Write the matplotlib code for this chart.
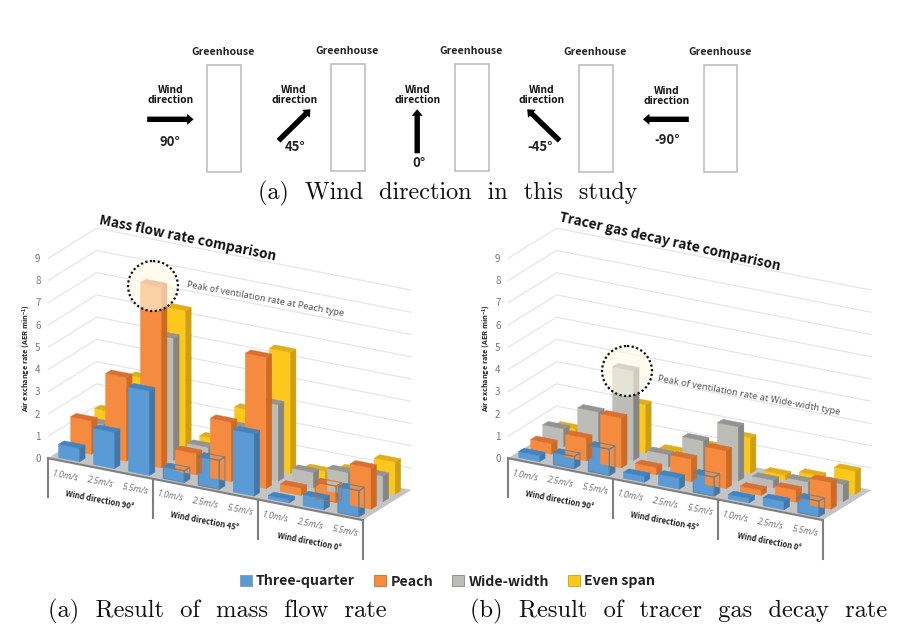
import matplotlib
matplotlib.use("Agg")
import matplotlib.pyplot as plt
from matplotlib.patches import Polygon, Rectangle, Ellipse, FancyArrow

speeds = ["1.0m/s", "2.5m/s", "5.5m/s"] * 3
directions = ["Wind direction 90°", "Wind direction 45°", "Wind direction 0°"]
series_names = ["Three-quarter", "Peach", "Wide-width", "Even span"]
y_ticks = list(range(10))

mass_three_quarter = [0.6, 1.63, 3.8, 0.52, 1.3, 2.8, 0.15, 0.5, 1.17]
mass_peach = [1.5, 3.76, 8.15, 0.96, 2.67, 5.9, 0.33, 0.73, 1.85]
mass_wide = [1.0, 2.6, 5.5, 0.9, 2.1, 3.43, 0.7, 1.0, 1.15]
mass_even = [1.2, 3.0, 6.4, 0.9, 2.5, 5.45, 0.4, 0.7, 1.44]

tracer_three_quarter = [0.27, 0.55, 1.18, 0.27, 0.5, 0.85, 0.2, 0.37, 0.7]
tracer_peach = [0.48, 1.03, 2.25, 0.33, 1.02, 1.7, 0.24, 0.55, 1.2]
tracer_wide = [0.8, 1.87, 4.03, 0.57, 1.5, 2.44, 0.35, 0.58, 0.78]
tracer_even = [0.46, 1.0, 2.17, 0.35, 0.9, 1.6, 0.25, 0.5, 1.03]

# (series index, category index) of bars drawn behind the next row, leaving an outline on top
mass_boxed = [(0, 3), (0, 4), (0, 8), (1, 7)]
tracer_boxed = [(0, 1), (0, 2), (0, 5), (0, 8)]

FRONT = ["#5b9bd5", "#f58b3e", "#bdbdb8", "#fdc71c"]
TOP = ["#4383c0", "#d96f30", "#949494", "#dfae1a"]
SIDE = ["#3f78ad", "#cf6a22", "#858585", "#cf9f12"]

fig = plt.figure(figsize=(9.06, 6.4), dpi=100)
ax = fig.add_axes([0, 0, 1, 1])
ax.set_xlim(0, 906)
ax.set_ylim(640, 0)
ax.axis("off")

SANS = "Noto Sans CJK KR"
ROT = -11.1


def make_proj(ox, oy=458.3):
    def proj(x, z, y):
        return (ox + 34.93 * x + 12.08 * z, oy + 6.87 * x - 7.5 * z - 22.23 * y)
    return proj


def box_faces(p, i, s, v):
    x0, x1 = i + 0.2, i + 0.8
    z0, z1 = s + 0.27, s + 0.73
    front = [p(x0, z0, 0), p(x1, z0, 0), p(x1, z0, v), p(x0, z0, v)]
    side = [p(x1, z0, 0), p(x1, z1, 0), p(x1, z1, v), p(x1, z0, v)]
    top = [p(x0, z0, v), p(x1, z0, v), p(x1, z1, v), p(x0, z1, v)]
    return front, side, top


def panel(ox, series, boxed, title, title_xy, title_rot, title_size):
    p = make_proj(ox)
    ax.add_patch(Polygon([p(0, 0, 0), p(9, 0, 0), p(9, 4, 0), p(0, 4, 0)],
                         fc="#c4c4c4", ec="none", zorder=1))
    for t in y_ticks:
        a, b, c = p(0, 0, t), p(0, 4, t), p(9, 4, t)
        ax.plot([a[0], b[0], c[0]], [a[1], b[1], c[1]], color="#e6e6e6", lw=0.9, zorder=0.5)
        ax.text(a[0] - 10.5, a[1] + 0.7, str(t), fontsize=7, color="#777777",
                family=SANS, ha="center", va="center")

    z = 2.0

    def draw(s, i):
        nonlocal z
        front, side, top = box_faces(p, i, s, series[s][i])
        ax.add_patch(Polygon(front, fc=FRONT[s], ec=FRONT[s], lw=0.3, zorder=z))
        ax.add_patch(Polygon(side, fc=SIDE[s], ec=SIDE[s], lw=0.3, zorder=z))
        ax.add_patch(Polygon(top, fc=TOP[s], ec=TOP[s], lw=0.3, zorder=z))
        z += 0.01

    for s in range(3, -1, -1):
        if s > 0:
            for i in range(9):
                if (s - 1, i) in boxed:
                    draw(s - 1, i)
        for i in range(9):
            if (s, i) not in boxed:
                draw(s, i)
    for s, i in boxed:
        for face in box_faces(p, i, s, series[s][i]):
            ax.add_patch(Polygon(face, fc="none", ec=SIDE[s] if s else "#5f7f9c",
                                 lw=0.8, alpha=0.8, zorder=z))

    a, b = p(0, 0, 0), p(9, 0, 0)
    ax.plot([a[0], b[0]], [a[1], b[1]], color="#7f7f7f", lw=1.5, zorder=z + 1)
    for k in range(4):
        q = p(3 * k, 0, 0)
        ax.plot([q[0], q[0]], [q[1], q[1] + 39], color="#7f7f7f", lw=1.5, zorder=z + 1)

    for i, lab in enumerate(speeds):
        q = p(i + 0.5, 0, 0)
        ax.text(q[0], q[1] + 14, lab, rotation=ROT, rotation_mode="anchor", fontsize=6.4,
                style="italic", color="#777777", family="Noto Sans", ha="center", va="center")
    for g, lab in enumerate(directions):
        q = p(3 * g + 1.5, 0, 0)
        ax.text(q[0] - 1, q[1] + 32, lab, rotation=ROT, rotation_mode="anchor", fontsize=5.5,
                fontweight="bold", color="#222222", family=SANS, ha="center", va="center")

    ax.text(ox - 21, 358, "Air exchange rate (AER min$^{\\mathregular{-1}}$)", rotation=90,
            fontsize=5.3, fontweight="bold", color="#222222", family=SANS, ha="center", va="center")
    ax.text(title_xy[0], title_xy[1], title, rotation=title_rot, rotation_mode="anchor",
            fontsize=title_size, fontweight="bold", color="#111111", family=SANS,
            ha="center", va="center")


mass = [mass_three_quarter, mass_peach, mass_wide, mass_even]
tracer = [tracer_three_quarter, tracer_peach, tracer_wide, tracer_even]
panel(48.3, mass, mass_boxed, "Mass flow rate comparison", (188, 238), -11.7, 9.8)
panel(508.3, tracer, tracer_boxed, "Tracer gas decay rate comparison", (670, 242), -12.6, 9.75)

for (cx, cy), txt, (tx, ty), w in [
    ((153, 286), "Peak of ventilation rate at Peach type", (265, 299), 6.6),
    ((627, 371), "Peak of ventilation rate at Wide-width type", (749, 395), 6.7),
]:
    ax.add_patch(Ellipse((cx, cy), 50, 50, fc="#fffbe6", ec="none", alpha=0.62, zorder=5))
    ax.add_patch(Ellipse((cx, cy), 50, 50, fc="none", ec="#111111", lw=1.6,
                         linestyle=(0, (1, 1.1)), zorder=5.1))
    ax.text(tx, ty, txt, rotation=-10.5, rotation_mode="anchor", fontsize=w,
            color="#555555", family="Noto Sans", ha="center", va="center", zorder=5)

# top diagram: wind directions
rect_x = [207.1, 331.0, 455.4, 578.9, 703.6]
rect_y = [65.0, 63.5, 63.5, 64.7, 65.0]
house_x = [223.5, 347.5, 471.4, 594.9, 720.0]
angles = ["90°", "45°", "0°", "-45°", "-90°"]
wind_xy = [(170.2, 95), (294.1, 95), (418, 95), (541.5, 95), (666.3, 96)]
angle_xy = [(169.8, 141.7), (295.3, 146.7), (419.3, 162.7), (540.3, 147.3), (667.5, 140)]
arrows = [((147.2, 119.3), (193.6, 119.3)), ((278.5, 140.7), (310.5, 109.3)),
          ((417.2, 153.3), (417.2, 109.3)), ((559.6, 140.7), (527.2, 109.3)),
          ((688.8, 119.3), (642.9, 119.3))]

for k in range(5):
    ax.add_patch(Rectangle((rect_x[k], rect_y[k]), 33.6, 107, fc="white", ec="#b9b9b9", lw=1.1))
    ax.text(house_x[k], rect_y[k] - 13, "Greenhouse", fontsize=7.6, fontweight="bold",
            color="#222222", family=SANS, ha="center", va="center")
    ax.text(wind_xy[k][0], wind_xy[k][1], "Wind\ndirection", fontsize=7.4, fontweight="bold",
            color="#111111", family=SANS, ha="center", va="center", linespacing=0.95)
    ax.text(angle_xy[k][0], angle_xy[k][1], angles[k], fontsize=9.4, fontweight="bold",
            color="#222222", family=SANS, ha="center", va="center")
    (x0, y0), (x1, y1) = arrows[k]
    ax.add_patch(FancyArrow(x0, y0, x1 - x0, y1 - y0, width=5.4, head_width=11,
                            head_length=6.5, length_includes_head=True, fc="black", ec="black", lw=0))

SERIF = "cmr10"
ax.text(448, 193, "(a)  Wind  direction  in  this  study", fontsize=17.4, family=SERIF,
        ha="center", va="center", color="#111111")
ax.text(217.5, 611, "(a)  Result  of  mass  flow  rate", fontsize=17.6, family=SERIF,
        ha="center", va="center", color="#111111")
ax.text(679, 611, "(b)  Result  of  tracer  gas  decay  rate", fontsize=17.6, family=SERIF,
        ha="center", va="center", color="#111111")

handles = [Rectangle((0, 0), 1, 1, fc=FRONT[s], ec="#7f9bb8" if s == 0 else SIDE[s], lw=0.6) for s in range(4)]
leg = ax.legend(handles, series_names, loc="center", bbox_to_anchor=(447.5 / 906, 1 - 581.5 / 640),
                ncol=4, frameon=False, handlelength=0.85, handleheight=0.85, handletextpad=0.3,
                columnspacing=1.35, borderpad=0,
                prop={"family": SANS, "weight": "bold", "size": 10.2})
for t in leg.get_texts():
    t.set_color("#222222")

fig.savefig("out.png", dpi=100)
